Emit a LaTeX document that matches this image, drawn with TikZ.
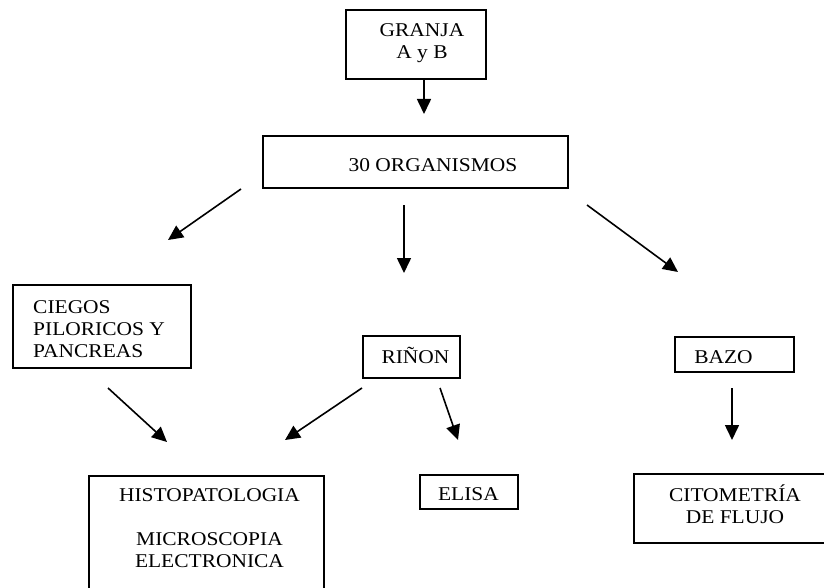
\documentclass[tikz,border=0pt]{standalone}
\usepackage{fontspec}
\setmainfont{Liberation Serif}[FakeStretch=1.1]
\usetikzlibrary{arrows.meta}
\begin{document}
\begin{tikzpicture}[x=1pt,y=-1pt,
  box/.style={draw, line width=1.6pt, inner sep=0pt, anchor=north west},
  txt/.style={inner sep=0pt, anchor=base, align=center, font=\fontsize{19.5}{22}\selectfont},
  conn/.style={line width=1.6pt, -{Triangle[length=15pt,width=14pt]}}]
\useasboundingbox[fill=white] (0,0) rectangle (824,588);
% boxes
\node[box, minimum width=140pt, minimum height=69pt] (granja) at (345,9) {};
\node[box, minimum width=305pt, minimum height=52pt] (org) at (262,135) {};
\node[box, minimum width=178pt, minimum height=83pt] (ciegos) at (12,284) {};
\node[box, minimum width=97pt, minimum height=42pt] (rinon) at (362,335) {};
\node[box, minimum width=119pt, minimum height=35pt] (bazo) at (674,336) {};
\node[box, minimum width=235pt, minimum height=130pt] (histo) at (88,475) {};
\node[box, minimum width=98pt, minimum height=34pt] (elisa) at (419,474) {};
\node[box, minimum width=200pt, minimum height=69pt] (cito) at (633,473) {};
% texts (multi-line: base = last line baseline)
\node[txt] (granjaT) at (422,59) {GRANJA\\A y B};
\node[txt] (orgT) at (433,172) {30 ORGANISMOS};
\node[txt, align=left, anchor=base west] (ciegosT) at (33,357) {CIEGOS\\PILORICOS Y\\PANCREAS};
\node[txt] (rinonT) at (415.5,363) {RIÑON};
\node[txt] (bazoT) at (723.5,363) {BAZO};
\node[txt] (histoT) at (209.5,567) {HISTOPATOLOGIA\\[21.5pt]MICROSCOPIA\\ELECTRONICA};
\node[txt] (elisaT) at (468.5,500) {ELISA};
\node[txt] (citoT) at (735,523) {CITOMETRÍA\\DE FLUJO};
% connector ends
\coordinate (a1s) at (424,80);  \coordinate (a1e) at (424,114);
\coordinate (a2s) at (241,189); \coordinate (a2e) at (168,240);
\coordinate (a3s) at (404,205); \coordinate (a3e) at (404,273);
\coordinate (a4s) at (587,205); \coordinate (a4e) at (678,272);
\coordinate (a5s) at (108,388); \coordinate (a5e) at (167,442);
\coordinate (a6s) at (362,388); \coordinate (a6e) at (285,440);
\coordinate (a7s) at (440,388); \coordinate (a7e) at (458,440);
\coordinate (a8s) at (732,388); \coordinate (a8e) at (732,440);
\draw[conn] (a1s) -- (a1e);
\draw[conn] (a2s) -- (a2e);
\draw[conn] (a3s) -- (a3e);
\draw[conn] (a4s) -- (a4e);
\draw[conn] (a5s) -- (a5e);
\draw[conn] (a6s) -- (a6e);
\draw[conn] (a7s) -- (a7e);
\draw[conn] (a8s) -- (a8e);
\end{tikzpicture}
\end{document}
